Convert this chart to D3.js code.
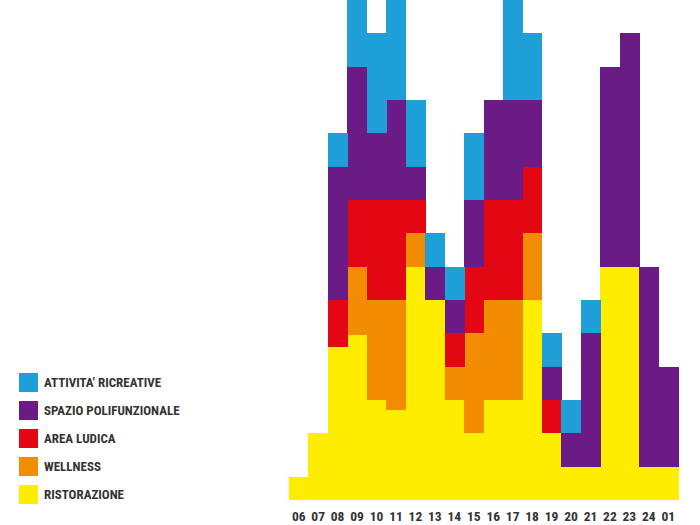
<!DOCTYPE html>
<html>
<head>
<meta charset="utf-8">
<script src="https://cdn.jsdelivr.net/npm/d3@7"></script>
<style>
body{margin:0;background:#fff;}
text{font-family:"Liberation Sans Narrow","Roboto Condensed","DejaVu Sans Condensed",sans-serif;font-weight:bold;fill:#333;}
</style>
</head>
<body>
<div id="chart"></div>
<script>
var W=700, H=525;
var hours=["06","07","08","09","10","11","12","13","14","15","16","17","18","19","20","21","22","23","24","01"];
var ristorazione=[0.7,2,4.6,4.95,3,2.7,7,6,3,2,3,3,6,2,1,1,7,7,1,1];
var wellness=[0,0,0,2.05,3,3.3,1,0,1,3,3,3,2,0,0,0,0,0,0,0];
var areaLudica=[0,0,1.4,2,3,3,1,0,1,2,3,3,2,1,0,0,0,0,0,0];
var spazioPoli=[0,0,4,4,2,3,1,1,1,2,3,3,2,1,1,4,6,7,6,3];
var attivita=[0,0,1,2.3,3,3.2,2,1,1,2,0,3.2,2,1,1,1,0,0,0,0];
var keys=["ristorazione","wellness","areaLudica","spazioPoli","attivita"];
var labels={ristorazione:"RISTORAZIONE",wellness:"WELLNESS",areaLudica:"AREA LUDICA",spazioPoli:"SPAZIO POLIFUNZIONALE",attivita:"ATTIVITA' RICREATIVE"};
var colors={ristorazione:"#FFED00",wellness:"#F28C00",areaLudica:"#E30613",spazioPoli:"#6A1B86",attivita:"#1E9FD8"};

var rows=hours.map(function(h,i){
	return {hour:h,ristorazione:ristorazione[i],wellness:wellness[i],areaLudica:areaLudica[i],spazioPoli:spazioPoli[i],attivita:attivita[i]};
});
var series=d3.stack().keys(keys)(rows);

var svg=d3.select('#chart').append('svg').attr('width',W).attr('height',H);
var x=d3.scaleBand().domain(hours).range([289,678]).padding(0);
var y=d3.scaleLinear().domain([0,15]).range([500,0]);

svg.append('g').selectAll('g').data(series).enter().append('g')
	.attr('fill',function(d){return colors[d.key];})
	.selectAll('rect').data(function(d){return d;}).enter().append('rect')
		.attr('x',function(d){return x(d.data.hour);})
		.attr('width',x.bandwidth()+0.5)
		.attr('y',function(d){return y(d[1]);})
		.attr('height',function(d){return Math.max(0,y(d[0])-y(d[1]));})
		.attr('shape-rendering','crispEdges');

var ax=svg.append('g').attr('transform','translate(0,500)')
	.call(d3.axisBottom(x).tickSize(0).tickPadding(11));
ax.select('.domain').remove();
ax.selectAll('text').style('font-size','13.5px').attr('fill','#2a2a2a');

// legend, top to bottom reversed from stack order
var leg=svg.append('g').selectAll('g').data(keys.slice().reverse()).enter().append('g')
	.attr('transform',function(d,i){return 'translate(19,'+(373+i*28)+')';});
leg.append('rect').attr('width',19).attr('height',19).attr('fill',function(d){return colors[d];});
leg.append('text').attr('x',25).attr('y',14).style('font-size','13px').text(function(d){return labels[d];});
</script>
</body>
</html>
